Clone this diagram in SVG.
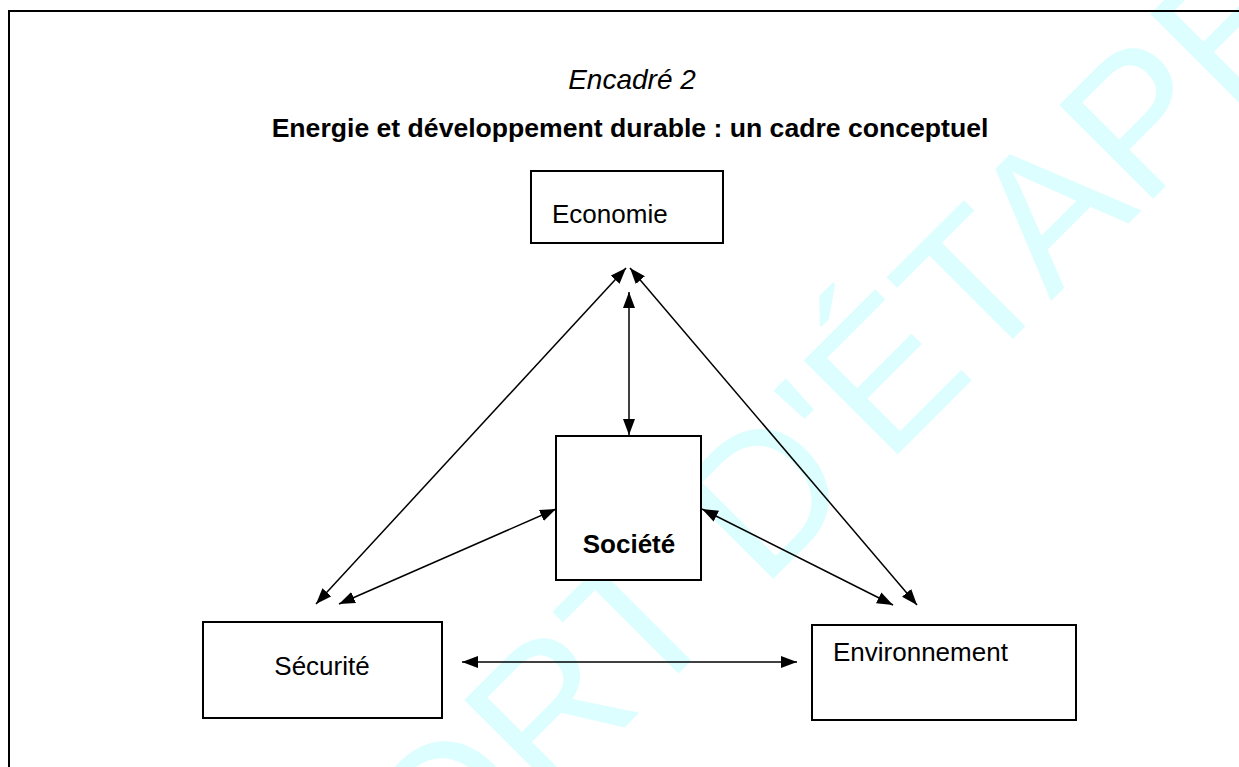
<svg xmlns="http://www.w3.org/2000/svg" width="1239" height="767" viewBox="0 0 1239 767">
<style>
.box{fill:#fff;stroke:#000;stroke-width:2}
.lbl{font-family:"Liberation Sans",Arial,Helvetica,sans-serif;font-size:26px;fill:#000}
.conn{stroke:#000;stroke-width:1.5;fill:none;marker-start:url(#ah);marker-end:url(#ah)}
.wm{font-family:"Liberation Sans",Arial,sans-serif;font-size:193px;fill:#dcfefe}
</style>
<defs>
<marker id="ah" viewBox="0 0 16 12" refX="16" refY="6" markerWidth="16" markerHeight="13" markerUnits="userSpaceOnUse" orient="auto-start-reverse">
<path d="M0,0 L16,6 L0,12 z" fill="#000"/>
</marker>
</defs>
<rect width="1239" height="767" fill="#fff"/>
<text class="wm" transform="rotate(-45)" x="-858" y="956">RAPPORT D'ÉTAPE</text>
<g id="frame" stroke="#000" stroke-width="2">
<line x1="8" y1="11" x2="1239" y2="11"/>
<line x1="9" y1="10" x2="9" y2="767"/>
</g>
<g id="title">
<text class="lbl" x="632" y="89" text-anchor="middle" style="font-style:italic;font-size:28px">Encadré 2</text>
<text class="lbl" x="630" y="137" text-anchor="middle" style="font-weight:bold;font-size:26.6px">Energie et développement durable : un cadre conceptuel</text>
</g>
<g id="connectors">
<line class="conn" x1="626" y1="268" x2="316" y2="604"/>
<line class="conn" x1="630" y1="268" x2="917" y2="605"/>
<line class="conn" x1="629" y1="292" x2="629" y2="435"/>
<line class="conn" x1="556" y1="509" x2="339" y2="604"/>
<line class="conn" x1="702" y1="509" x2="893" y2="605"/>
<line class="conn" x1="462" y1="662" x2="797" y2="662"/>
</g>
<g id="economie">
<rect class="box" x="531" y="171" width="192" height="72"/>
<text class="lbl" x="552" y="223">Economie</text>
</g>
<g id="societe">
<rect class="box" x="556" y="436" width="145" height="144"/>
<text class="lbl" x="629" y="553" text-anchor="middle" style="font-weight:bold">Société</text>
</g>
<g id="securite">
<rect class="box" x="203" y="622" width="239" height="96"/>
<text class="lbl" x="322" y="675" text-anchor="middle">Sécurité</text>
</g>
<g id="environnement">
<rect class="box" x="812" y="625" width="264" height="95"/>
<text class="lbl" x="833" y="661">Environnement</text>
</g>
</svg>
